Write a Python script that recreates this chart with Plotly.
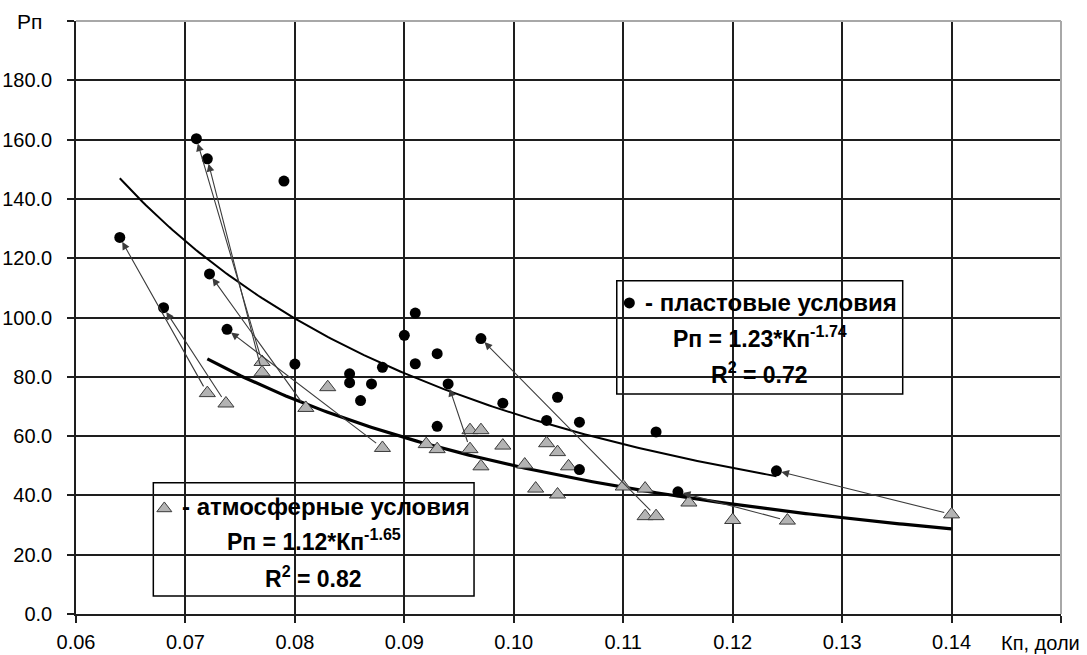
import numpy as np
import plotly.graph_objects as go

# Пористость (Кп, доли) и параметр пористости (Рп), пластовые условия
kp_plast = [0.064, 0.068, 0.071, 0.072, 0.0722, 0.0738, 0.079, 0.080, 0.085, 0.085,
            0.086, 0.087, 0.088, 0.090, 0.091, 0.091, 0.093, 0.093, 0.094, 0.097,
            0.099, 0.103, 0.104, 0.106, 0.106, 0.113, 0.115, 0.124]
pp_plast = [127.0, 103.3, 160.3, 153.5, 114.7, 96.0, 146.0, 84.3, 81.0, 78.0,
            72.0, 77.6, 83.2, 94.0, 101.5, 84.4, 87.8, 63.3, 77.6, 92.9,
            71.1, 65.3, 73.1, 64.7, 48.7, 61.4, 41.2, 48.3]

# Атмосферные условия
kp_atm = [0.072, 0.0737, 0.077, 0.077, 0.081, 0.083, 0.088, 0.092, 0.093, 0.096,
          0.096, 0.097, 0.097, 0.099, 0.101, 0.102, 0.103, 0.104, 0.104, 0.105,
          0.110, 0.112, 0.112, 0.113, 0.116, 0.120, 0.125, 0.140]
pp_atm = [74.5, 71.0, 85.0, 81.5, 69.5, 76.5, 56.0, 57.3, 55.6, 62.0,
          55.6, 62.0, 49.8, 56.8, 50.4, 42.3, 57.6, 54.6, 40.3, 49.8,
          43.0, 42.3, 33.0, 33.0, 37.6, 31.7, 31.5, 33.6]

# Пары образцов: атмосферные -> пластовые условия
arrow_from_kp = [0.072, 0.0737, 0.077, 0.077, 0.081, 0.088, 0.096, 0.113, 0.125, 0.140]
arrow_from_pp = [74.5, 71.0, 85.0, 81.5, 69.5, 56.0, 55.6, 33.0, 31.5, 33.6]
arrow_to_kp = [0.064, 0.068, 0.071, 0.072, 0.0722, 0.0738, 0.094, 0.097, 0.115, 0.124]
arrow_to_pp = [127.0, 103.3, 160.3, 153.5, 114.7, 96.0, 77.6, 92.9, 41.2, 48.3]

# Степенные аппроксимации Рп = a*Кп^b
a_plast, b_plast, r2_plast = 1.23, -1.74, 0.72
a_atm, b_atm, r2_atm = 1.12, -1.65, 0.82

x_ticks = [0.06, 0.07, 0.08, 0.09, 0.10, 0.11, 0.12, 0.13, 0.14, 0.15]
x_tick_text = ["0.06", "0.07", "0.08", "0.09", "0.10", "0.11", "0.12", "0.13", "0.14", ""]
y_ticks = [0, 20, 40, 60, 80, 100, 120, 140, 160, 180, 200]
y_tick_text = ["0.0", "20.0", "40.0", "60.0", "80.0", "100.0", "120.0", "140.0", "160.0", "180.0", ""]

FONT = "Liberation Sans, Arial, sans-serif"

fig = go.Figure()

xp = np.linspace(min(kp_plast), max(kp_plast), 200)
fig.add_trace(go.Scatter(x=xp, y=a_plast * xp ** b_plast, mode="lines",
                         line=dict(color="black", width=2), hoverinfo="skip"))
xa = np.linspace(min(kp_atm), max(kp_atm), 200)
fig.add_trace(go.Scatter(x=xa, y=a_atm * xa ** b_atm, mode="lines",
                         line=dict(color="black", width=3.2), hoverinfo="skip"))

fig.add_trace(go.Scatter(x=kp_atm, y=pp_atm, mode="markers",
                         marker=dict(symbol="triangle-up", size=14, color="#b3b3b3",
                                     line=dict(color="#3a3a3a", width=1))))
fig.add_trace(go.Scatter(x=kp_plast, y=pp_plast, mode="markers",
                         marker=dict(symbol="circle", size=11, color="black")))

# Маркеры в подписях-легендах
fig.add_trace(go.Scatter(x=[0.11056], y=[104.9], mode="markers",
                         marker=dict(symbol="circle", size=11, color="black")))
fig.add_trace(go.Scatter(x=[0.06807], y=[35.6], mode="markers",
                         marker=dict(symbol="triangle-up", size=13, color="#b3b3b3",
                                     line=dict(color="#3a3a3a", width=1))))

annotations = []
for x0, y0, x1, y1 in zip(arrow_from_kp, arrow_from_pp, arrow_to_kp, arrow_to_pp):
    annotations.append(dict(x=x1, y=y1, ax=x0, ay=y0, xref="x", yref="y",
                            axref="x", ayref="y", text="", showarrow=True,
                            arrowhead=2, arrowsize=1.4, arrowwidth=1.1,
                            arrowcolor="#3c3c3c", standoff=5, startstandoff=6))

def label(text, x, y, size=24, bold=True, xanchor="center"):
    return dict(text=f"<b>{text}</b>" if bold else text, x=x, y=y, xref="paper", yref="paper",
                showarrow=False, xanchor=xanchor, yanchor="middle",
                font=dict(family=FONT, size=size, color="black"))

annotations += [
    label("- пластовые условия", 0.5756, 0.5245, xanchor="left"),
    label(f"Рп = {a_plast:.2f}*Кп<sup>{b_plast:.2f}</sup>", 0.6944, 0.4671, size=23),
    label(f"R<sup>2</sup> = {r2_plast:.2f}", 0.6944, 0.4064, size=23),
    label("- атмосферные условия", 0.1056, 0.1809, xanchor="left"),
    label(f"Рп = {a_atm:.2f}*Кп<sup>{b_atm:.2f}</sup>", 0.2413, 0.1248, size=23),
    label(f"R<sup>2</sup> = {r2_atm:.2f}", 0.2413, 0.0629, size=23),
    label("Рп", -0.0477, 0.999, size=21, bold=False),
    label("Кп, доли", 0.9787, -0.0489, size=20, bold=False),
]

shapes = [
    dict(type="rect", xref="paper", yref="paper", x0=0.549, x1=0.8393, y0=0.371, y1=0.5621,
         line=dict(color="black", width=1.5), fillcolor="white", layer="between"),
    dict(type="rect", xref="paper", yref="paper", x0=0.0785, x1=0.4041, y0=0.0304, y1=0.2214,
         line=dict(color="black", width=1.5), fillcolor="white", layer="between"),
    # светлая рамка сверху и справа
    dict(type="line", xref="paper", yref="paper", x0=0, x1=1, y0=1, y1=1,
         line=dict(color="#a8a8a8", width=2), layer="above"),
    dict(type="line", xref="paper", yref="paper", x0=1, x1=1, y0=0, y1=1,
         line=dict(color="#a8a8a8", width=2), layer="above"),
]

axis_common = dict(showgrid=True, gridcolor="#1e1e1e", gridwidth=1.5,
                   showline=True, linecolor="#1e1e1e", linewidth=1.5,
                   ticks="outside", ticklen=7, tickcolor="#1e1e1e", tickwidth=1.5,
                   zeroline=False, automargin=False,
                   tickfont=dict(family=FONT, size=20, color="black"))

fig.update_layout(
    width=1087, height=655,
    margin=dict(l=76, r=26, t=21, b=41),
    paper_bgcolor="white", plot_bgcolor="white",
    showlegend=False,
    xaxis=dict(range=[0.06, 0.15], tickmode="array", tickvals=x_ticks, ticktext=x_tick_text,
               ticklabelstandoff=2, **axis_common),
    yaxis=dict(range=[0, 200], tickmode="array", tickvals=y_ticks, ticktext=y_tick_text,
               ticklabelstandoff=11, **axis_common),
    annotations=annotations,
    shapes=shapes,
)

fig.write_html("out.html")
